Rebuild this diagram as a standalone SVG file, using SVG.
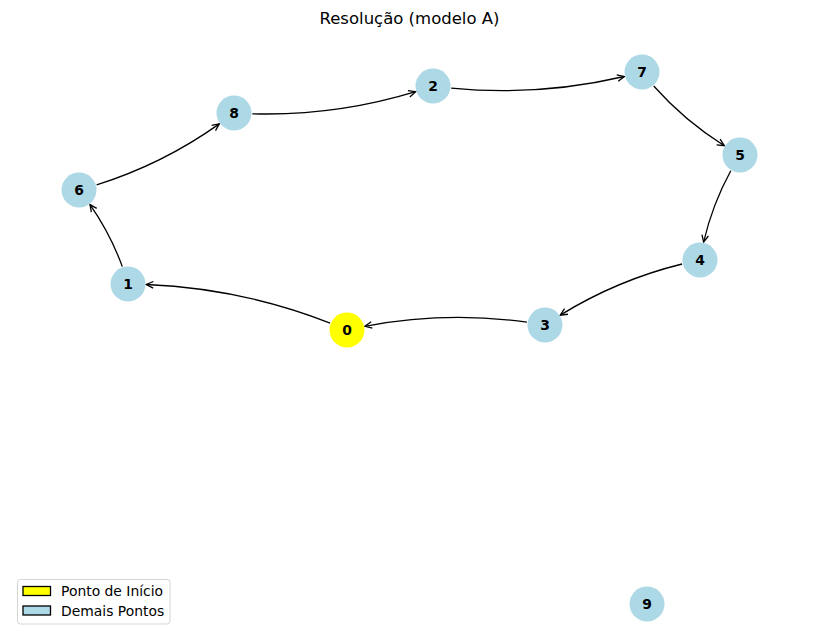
<svg xmlns="http://www.w3.org/2000/svg" width="819" height="642" viewBox="0 0 819 642">
<defs>
<marker id="arr" markerUnits="userSpaceOnUse" markerWidth="14" markerHeight="12" refX="0" refY="0" viewBox="-9 -6 14 12" orient="auto" overflow="visible">
<path d="M -7,-3.3 L 0,0 L -7,3.3" fill="none" stroke="#000" stroke-width="1.3" stroke-linejoin="miter"/>
</marker>
</defs>
<style>
text{font-family:"DejaVu Sans",sans-serif}
.t{font-size:16.5px;text-anchor:middle}
.lbl{font-size:13.9px;font-weight:bold;text-anchor:middle;dominant-baseline:central}
.n{fill:#add8e6}
.s{fill:#ffff00}
.e{fill:none;stroke:#000;stroke-width:1.3;marker-end:url(#arr)}
.lg{font-size:13.9px}
</style>
<rect width="819" height="642" fill="#fff"/>
<text class="t" x="409.5" y="24">Resolução (modelo A)</text>
<g id="edges">
<path class="e" d="M330.1,323.1 Q241.4,288.3 146.3,284.5"/>
<path class="e" d="M122.3,266.6 Q110.25,233.5 90,204.6"/>
<path class="e" d="M96.6,184.9 Q162.8,164.1 219.3,123.9"/>
<path class="e" d="M252.3,113.8 Q335.8,116.2 415.6,91.7"/>
<path class="e" d="M451.2,88.1 Q538.7,96.6 624.3,76.5"/>
<path class="e" d="M653.7,86 Q684.7,120.9 724.3,145.7"/>
<path class="e" d="M730.8,170.7 Q712.3,204.6 703.6,242.1"/>
<path class="e" d="M682.1,264 Q617.2,280 560.3,315.1"/>
<path class="e" d="M526.9,322.2 Q445.6,311 364.9,326.3"/>
</g>
<g id="node0"><circle class="s" cx="347" cy="330" r="17.5"/><text class="lbl" x="347" y="330">0</text></g>
<g id="node1"><circle class="n" cx="128" cy="284" r="17.5"/><text class="lbl" x="128" y="284">1</text></g>
<g id="node2"><circle class="n" cx="433" cy="86" r="17.5"/><text class="lbl" x="433" y="86">2</text></g>
<g id="node3"><circle class="n" cx="545" cy="325" r="17.5"/><text class="lbl" x="545" y="325">3</text></g>
<g id="node4"><circle class="n" cx="700" cy="260" r="17.5"/><text class="lbl" x="700" y="260">4</text></g>
<g id="node5"><circle class="n" cx="740" cy="155" r="17.5"/><text class="lbl" x="740" y="155">5</text></g>
<g id="node6"><circle class="n" cx="79" cy="190" r="17.5"/><text class="lbl" x="79" y="190">6</text></g>
<g id="node7"><circle class="n" cx="642" cy="72" r="17.5"/><text class="lbl" x="642" y="72">7</text></g>
<g id="node8"><circle class="n" cx="234" cy="113" r="17.5"/><text class="lbl" x="234" y="113">8</text></g>
<g id="node9"><circle class="n" cx="647" cy="604" r="17.5"/><text class="lbl" x="647" y="604">9</text></g>
<g id="legend">
<rect x="17.5" y="579.5" width="152.5" height="44.5" rx="3" fill="#fff" fill-opacity="0.8" stroke="#d5d5d5" stroke-width="1"/>
<rect x="23" y="586.5" width="27.5" height="9" fill="#ffff00" stroke="#000" stroke-width="1.3"/>
<rect x="23" y="606" width="27.5" height="9" fill="#add8e6" stroke="#000" stroke-width="1.3"/>
<text class="lg" x="61" y="596">Ponto de Início</text>
<text class="lg" x="61" y="616">Demais Pontos</text>
</g>
</svg>
